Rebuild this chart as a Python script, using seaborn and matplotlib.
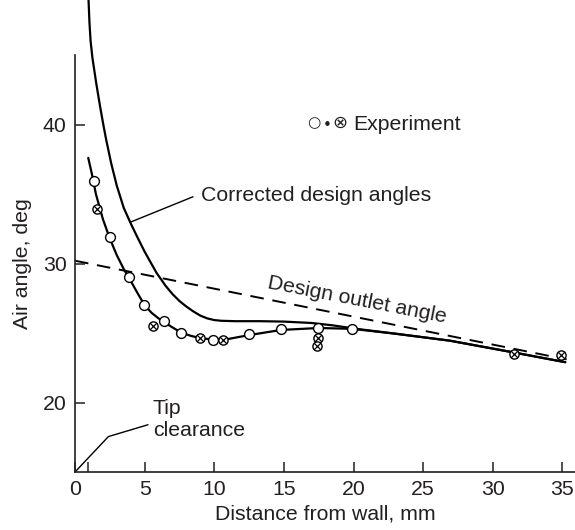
import numpy as np
import pandas as pd
import seaborn as sns
import matplotlib.pyplot as plt

# Data
# experiment: open circles and crossed circles
circ_x = [1.33, 2.48, 3.85, 4.95, 6.37, 7.6, 9.94, 12.5, 14.8, 17.47, 19.9]
circ_y = [35.9, 31.9, 29.0, 27.0, 25.87, 25.0, 24.5, 24.9, 25.27, 25.36, 25.3]
cross_x = [1.57, 5.58, 8.96, 10.6, 17.47, 17.35, 31.5, 34.86]
cross_y = [33.9, 25.5, 24.64, 24.5, 24.67, 24.1, 23.5, 23.4]

# curve through the experiment points
fit_x = [0.95, 1.2, 1.5, 2.0, 2.5, 3.0, 3.5, 4.0, 4.5, 5.0, 5.5, 6.0, 6.5,
         7.0, 7.6, 8.3, 9.0, 10.0, 11.0, 12.5, 14.8, 17.5, 19.9, 23.0, 26.9,
         31.5, 35.2]
fit_y = [37.6, 36.5, 35.0, 33.2, 31.8, 30.6, 29.6, 28.75, 27.85, 27.0, 26.45,
         26.05, 25.72, 25.4, 25.05, 24.8, 24.63, 24.52, 24.57, 24.85, 25.22,
         25.36, 25.3, 24.95, 24.45, 23.6, 22.9]

# corrected design angles
corr_x = [0.97, 1.04, 1.12, 1.25, 1.52, 1.8, 2.05, 2.24, 2.6, 3.0, 3.5, 4.04,
          4.5, 5.0, 5.84, 6.5, 7.0, 7.5, 8.0, 8.5, 9.0, 9.5, 10.0, 10.5,
          11.5, 13.3, 15.0, 17.0, 18.5, 20.2, 23.0, 26.9, 31.5, 35.2]
corr_y = [49.0, 47.3, 46.0, 44.8, 43.0, 41.3, 39.9, 38.9, 37.2, 35.6, 34.0,
          32.8, 31.85, 30.85, 29.35, 28.4, 27.8, 27.3, 26.9, 26.55, 26.25,
          26.05, 25.93, 25.88, 25.85, 25.85, 25.82, 25.72, 25.55, 25.3, 24.95,
          24.45, 23.6, 22.9]

# design outlet angle (dashed)
design_x = [0, 35.3]
design_y = [30.2, 23.1]

x_ticks = [0, 5, 10, 15, 20, 25, 30, 35]
y_ticks = [20, 30, 40]
tip_clearance = 0.92

sns.set_theme(style='white')
plt.rcParams['font.family'] = ['Liberation Sans', 'DejaVu Sans']
plt.rcParams['font.size'] = 15.3
ink = '#231f20'

fig = plt.figure(figsize=(5.75, 5.3), dpi=100)
ax = fig.add_axes([75 / 575, 1 - 472 / 530, 500 / 575, 417 / 530])

# Curves
sns.lineplot(x=corr_x, y=corr_y, ax=ax, color='black', lw=1.6,
             sort=False, estimator=None, clip_on=False)
sns.lineplot(x=fit_x, y=fit_y, ax=ax, color='black', lw=1.6,
             sort=False, estimator=None)
sns.lineplot(x=design_x, y=design_y, ax=ax, color='black', lw=1.4,
             sort=False, estimator=None, linestyle=(0, (7, 4.5)))

# Experiment markers
sns.scatterplot(x=circ_x, y=circ_y, ax=ax, marker='o', s=50, color='white',
                edgecolor='black', linewidth=1.0, zorder=4, clip_on=False)
sns.scatterplot(x=cross_x, y=cross_y, ax=ax, marker='o', s=44, color='white',
                edgecolor='black', linewidth=1.0, zorder=4, clip_on=False)
ax.scatter(cross_x, cross_y, marker='x', s=22, color='black', linewidth=0.9,
           zorder=5, clip_on=False)

# Annotations
ax.plot([4.04, 8.47], [33.0, 34.8], color='black', lw=1.0)
ax.text(9.08, 34.53, 'Corrected design angles', color=ink, ha='left', va='baseline')
ax.text(17.17, 40.15, '○', color=ink, ha='center', va='center', fontsize=11,
        family=['DejaVu Sans'])
ax.text(18.1, 39.9, '•', color=ink, ha='center', va='center', fontsize=11,
        family=['DejaVu Sans'])
ax.text(19.03, 40.15, '⊗', color=ink, ha='center', va='center', fontsize=13,
        family=['DejaVu Sans'])
ax.text(19.96, 39.57, 'Experiment', color=ink, ha='left', va='baseline')
ax.text(13.78, 28.23, 'Design outlet angle', color=ink, ha='left', va='baseline',
        rotation=-11, rotation_mode='anchor')
ax.plot([0, 2.4, 5.24], [15, 17.55, 18.4], color='black', lw=1.0, clip_on=False)
ax.text(5.58, 18.77, 'Tip\nclearance', color=ink, ha='left', va='center',
        linespacing=1.2)

# Axes
ax.set_xlim(0, 35.9)
ax.set_ylim(15, 45)
ax.set_xticks(x_ticks)
ax.set_yticks(y_ticks)
ax.set_xticks([tip_clearance], minor=True)
ax.tick_params(axis='both', which='both', direction='in', length=7, width=1.1,
               color=ink, labelcolor=ink, labelsize=15.3, pad=6)
ax.tick_params(axis='x', which='both', bottom=True)
ax.tick_params(axis='y', which='major', left=True)
sns.despine(ax=ax)
for s in ['left', 'bottom']:
    ax.spines[s].set_color(ink)
    ax.spines[s].set_linewidth(1.2)
ax.set_xlabel('Distance from wall, mm', color=ink, fontsize=15.3, labelpad=4)
ax.set_ylabel('Air angle, deg', color=ink, fontsize=15.3, labelpad=8)

fig.savefig('out.png', dpi=100)
